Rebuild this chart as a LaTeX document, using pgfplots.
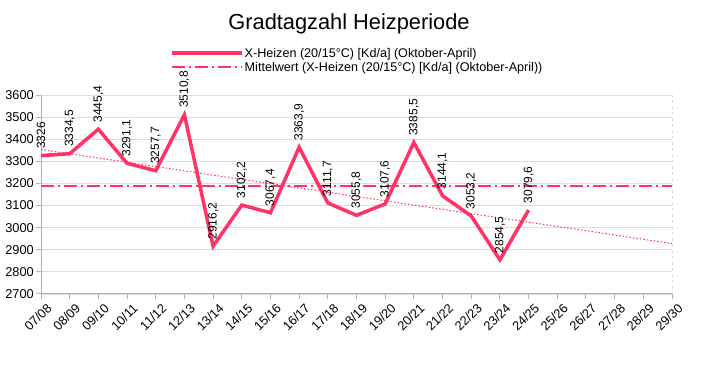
\documentclass[border=0pt]{standalone}
\usepackage{pgfplots}
\usepackage{pgfplotstable}
\pgfplotsset{compat=1.18}
\usepackage{fontspec}
\setmainfont{Liberation Sans}
\definecolor{hz}{RGB}{255,51,102}
\definecolor{axc}{HTML}{B3B3B3}
\definecolor{grc}{HTML}{DDDDDD}
\pgfplotstableread{
x y lab
0 3326 3326
1 3334.5 3334,5
2 3445.4 3445,4
3 3291.1 3291,1
4 3257.7 3257,7
5 3510.8 3510,8
6 2916.2 2916,2
7 3102.2 3102,2
8 3067.4 3067,4
9 3363.9 3363,9
10 3111.7 3111,7
11 3055.8 3055,8
12 3107.6 3107,6
13 3385.5 3385,5
14 3144.1 3144,1
15 3053.2 3053,2
16 2854.5 2854,5
17 3079.6 3079,6
}\heiz
\pgfplotstableread{
x y
0 3189.3
22 3189.3
}\mittel
\pgfplotstableread{
x y
0 3353.8
22 2928.1
}\trend
\begin{document}
\begin{tikzpicture}[x=1pt,y=1pt]
\path[use as bounding box] (0,0) rectangle (702,367);
\node[font=\fontsize{21.8}{26}\selectfont] at (349,343) {Gradtagzahl Heizperiode};
\begin{axis}[
  at={(41pt,73pt)}, anchor=south west,
  scale only axis, width=631pt, height=199pt,
  xmin=0, xmax=22, ymin=2700, ymax=3600,
  xtick={0,...,22},
  xticklabels={07/08,08/09,09/10,10/11,11/12,12/13,13/14,14/15,15/16,16/17,17/18,18/19,19/20,20/21,21/22,22/23,23/24,24/25,25/26,26/27,27/28,28/29,29/30},
  ytick={2700,2800,...,3600},
  axis x line*=bottom, axis y line*=left,
  axis line style={-, axc, line width=1pt},
  tick style={axc, line width=1pt}, major tick length=5pt, tick align=outside,
  ymajorgrids, grid style={grc, line width=0.8pt},
  ticklabel style={font=\fontsize{12.8}{15}\selectfont},
  xticklabel style={xshift=5pt, yshift=-2pt, rotate=45, anchor=north east, inner sep=1pt},
  yticklabel style={inner sep=2pt},
  /pgf/number format/assume math mode=true,
  /pgf/number format/1000 sep={},
  clip=false,
  legend cell align=left,
  legend style={at={(0.2045,1.24)}, anchor=north west, draw=none, fill=none,
    font=\fontsize{12.6}{15}\selectfont, inner sep=0pt, row sep=3pt,
    nodes={inner sep=1pt, text depth=0pt}},
  legend image code/.code={\draw[#1] (0pt,0pt) -- (70pt,0pt);},
]
\draw[grc, dashed] (rel axis cs:0,1) -- (rel axis cs:1,1) -- (rel axis cs:1,0);
\addplot[draw=hz, line width=3.5pt, line join=miter,
  nodes near coords, point meta=explicit symbolic,
  every node near coord/.style={yshift=4pt, rotate=90, anchor=west, inner sep=1pt,
    font=\fontsize{12}{14}\selectfont, black}]
  table[x=x, y=y, meta=lab] {\heiz};
\addlegendentry{X-Heizen (20/15°C) [Kd/a] (Oktober-April)}
\addplot[draw=hz, line width=1.6pt, dash pattern={on 13pt off 4pt on 2pt off 4pt}]
  table[x=x, y=y] {\mittel};
\addlegendentry{Mittelwert (X-Heizen (20/15°C) [Kd/a] (Oktober-April))}
\addplot[draw=hz, line width=1pt, dash pattern={on 1.5pt off 2pt}, forget plot]
  table[x=x, y=y] {\trend};
\end{axis}
\end{tikzpicture}
\end{document}
